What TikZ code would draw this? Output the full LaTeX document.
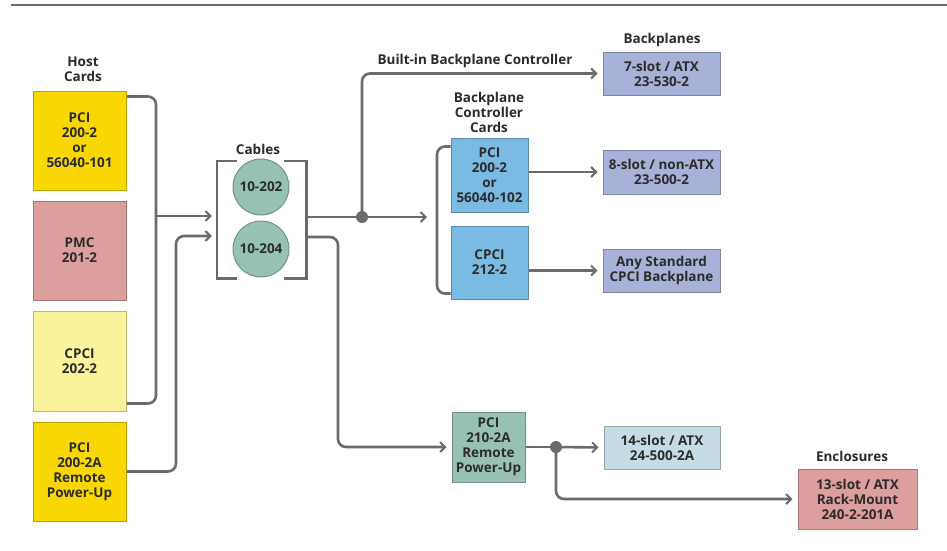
\documentclass[tikz,border=0pt]{standalone}
\usepackage{fontspec}
\setmainfont{Open Sans}
\usetikzlibrary{arrows.meta}
\usetikzlibrary{positioning}
\definecolor{mline}{HTML}{6B6B6B}
\definecolor{mtext}{HTML}{2B2B2B}
\definecolor{myellow}{HTML}{F8D800}
\definecolor{mlyellow}{HTML}{FAF39B}
\definecolor{mpink}{HTML}{DD9E9E}
\definecolor{mteal}{HTML}{98C1B6}
\definecolor{mblue}{HTML}{7BBAE3}
\definecolor{mlav}{HTML}{A8B1D7}
\definecolor{mpale}{HTML}{C5DCE6}
\tikzset{card/.style = {draw=#1!75!black, fill=#1, line width=1pt, align=center,
                        inner sep=0, text=mtext}}
\tikzset{cable/.style = {card=mteal, circle, minimum size=56pt}}
\tikzset{title/.style = {align=center, text=mtext, inner sep=0}}
\tikzset{wire/.style = {draw=mline, line width=2.6pt, rounded corners=8pt}}
\tikzset{feed/.style = {wire, -{Straight Barb[length=5pt,width=10pt,line width=2pt]}, shorten >=5pt}}
\tikzset{dot/.style = {fill=mline, circle, inner sep=0, minimum size=12pt}}

\begin{document}
\begin{tikzpicture}[x=1pt, y=-1pt, font=\fontsize{13.5}{15}\selectfont\bfseries]
      \useasboundingbox [fill=white] (0,0) rectangle (947,550);
      \draw [mline, line width=1.5pt] (11,5) -- (947,5);
      % host cards
      \node [title] (thost) at (83,69) {Host\\Cards};
      \node [card=myellow, minimum width=93pt, minimum height=99pt] (hpci) at (79.5,140.5) {PCI\\200-2\\or\\56040-101};
      \node [card=mpink, minimum width=93pt, minimum height=99pt] (hpmc) at (79.5,250.5) {PMC\\201-2};
      \node [card=mlyellow, minimum width=93pt, minimum height=100pt] (hcpci) at (79.5,361) {CPCI\\202-2};
      \node [card=myellow, minimum width=93pt, minimum height=99pt] (hrem) at (79.5,471.5) {PCI\\200-2A\\Remote\\Power-Up};
      % cables
      \node [title] (tcab) at (258,149) {Cables};
      \node [minimum width=89pt, minimum height=117pt, inner sep=0] (cab) at (261.5,219.5) {};
      \node [cable] (c202) at (261,187) {10-202};
      \node [cable] (c204) at (261,249) {10-204};
      \draw [wire, rounded corners=0] ([xshift=20pt]cab.north west) -- (cab.north west) -- (cab.south west) -- ([xshift=20pt]cab.south west);
      \draw [wire, rounded corners=0] ([xshift=-22pt]cab.north east) -- (cab.north east) -- (cab.south east) -- ([xshift=-22pt]cab.south east);
      % backplane controller cards
      \node [title] (tbcc) at (489,112) {Backplane\\Controller\\Cards};
      \node [card=mblue, minimum width=77pt, minimum height=74pt] (bpci) at (489.5,175) {PCI\\200-2\\or\\56040-102};
      \node [card=mblue, minimum width=77pt, minimum height=73pt] (bcpci) at (489.5,262.5) {CPCI\\212-2};
      \node [card=mteal, minimum width=73pt, minimum height=70pt] (rpu) at (488.5,447) {PCI\\210-2A\\Remote\\Power-Up};
      % backplanes and enclosures
      \node [title] (tbp) at (662,40) {Backplanes};
      \node [card=mlav, minimum width=117pt, minimum height=43pt] (bp7) at (661.5,73.5) {7-slot / ATX\\23-530-2};
      \node [card=mlav, minimum width=117pt, minimum height=44pt] (bp8) at (661.5,172) {8-slot / non-ATX\\23-500-2};
      \node [card=mlav, minimum width=117pt, minimum height=43pt] (bpany) at (661.5,270.5) {Any Standard\\CPCI Backplane};
      \node [card=mpale, minimum width=116pt, minimum height=43pt] (bp14) at (662,447.5) {14-slot / ATX\\24-500-2A};
      \node [title] (tenc) at (852,456) {Enclosures};
      \node [card=mpink, minimum width=119pt, minimum height=60pt] (enc) at (857.5,499) {13-slot / ATX\\Rack-Mount\\240-2-201A};
      \node [title] (tbuilt) at (475,61) {Built-in Backplane Controller};
      % wiring
      \coordinate (hbus) at (156,216);
      \coordinate (rbus) at (176,236);
      \coordinate (j1) at (362,217);
      \coordinate (rdrop) at (338,237);
      \coordinate (bccl) at (437,217);
      \coordinate (j2) at (556,447);
      \draw [wire] ([yshift=-6pt]hpci.north east) -| (hbus) |- ([yshift=8pt]hcpci.south east);
      \draw [feed] (hbus) -- (cab.west |- hbus);
      \draw [feed] (hrem.east) -| (rbus) -- (cab.west |- rbus);
      \draw [wire] (cab.east |- j1) -- (j1);
      \draw [feed] (j1) -- ([xshift=-5pt]bccl);
      \draw [feed] (j1) |- (bp7.west);
      \draw [wire] ([yshift=-9pt]bpci.north west) -| (bccl) |- ([yshift=6pt]bcpci.south west);
      \draw [feed] (cab.east |- rdrop) -| (rdrop |- rpu.west) -- (rpu.west);
      \draw [feed] (bpci.east |- bp8.west) -- (bp8.west);
      \draw [feed] (bcpci.east |- bpany.west) -- (bpany.west);
      \draw [wire] (rpu.east) -- (j2);
      \draw [feed] (j2) -- (bp14.west);
      \draw [feed] (j2) |- (enc.west);
      \node [dot] at (j1) {};
      \node [dot] at (j2) {};
\end{tikzpicture}
\end{document}
